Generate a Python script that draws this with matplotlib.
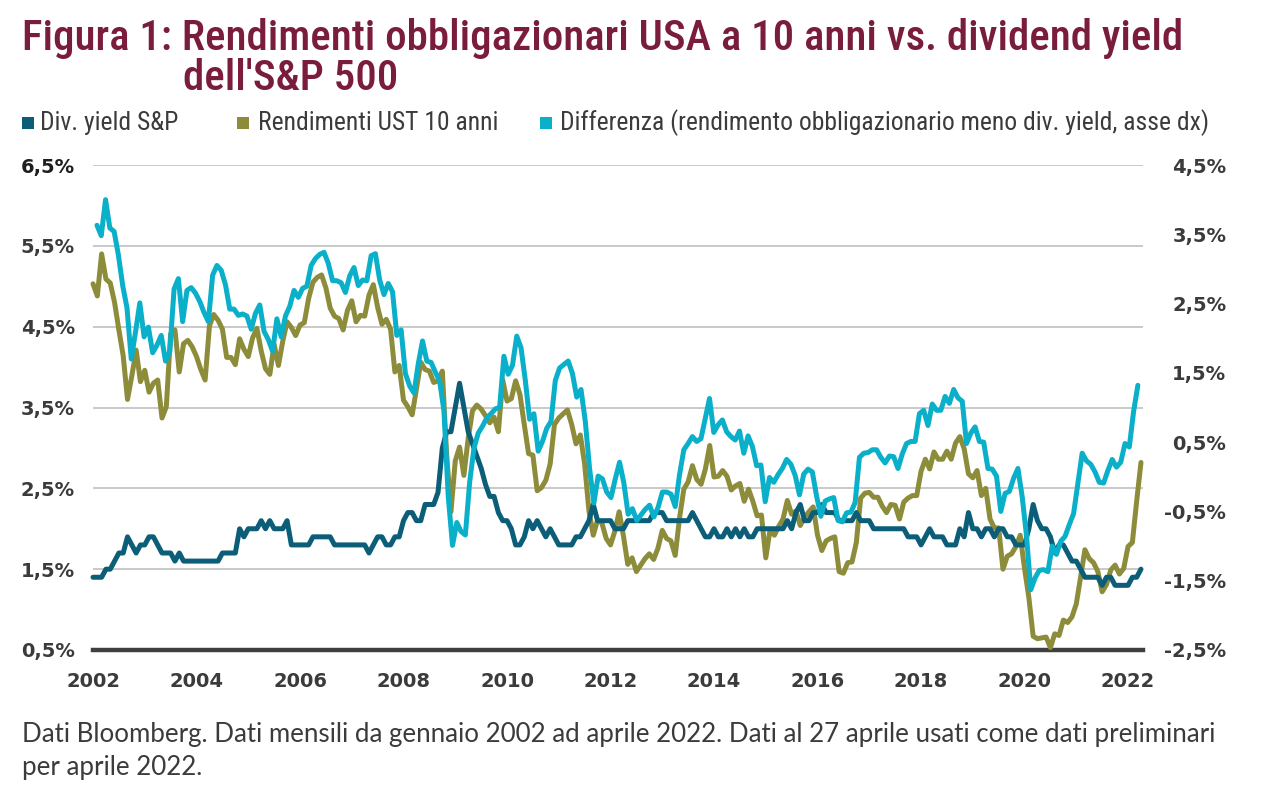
import numpy as np
import matplotlib
matplotlib.use("Agg")
import matplotlib.pyplot as plt
from matplotlib import font_manager
from matplotlib.patches import Rectangle

# ---------------- data (monthly, Jan 2002 - Apr 2022) ----------------
year_ticks = [2002, 2004, 2006, 2008, 2010, 2012, 2014, 2016, 2018, 2020, 2022]
year_labels = [str(y) for y in year_ticks]
left_ticks = [0.5, 1.5, 2.5, 3.5, 4.5, 5.5, 6.5]
left_labels = ["0,5%", "1,5%", "2,5%", "3,5%", "4,5%", "5,5%", "6,5%"]
right_ticks = [-2.5, -1.5, -0.5, 0.5, 1.5, 2.5, 3.5, 4.5]
right_labels = ["-2,5%", "-1,5%", "-0,5%", "0,5%", "1,5%", "2,5%", "3,5%", "4,5%"]

ust_10y = [
    5.03, 4.88, 5.40, 5.09, 5.04, 4.80, 4.46, 4.14, 3.60, 3.89, 4.21, 3.82,
    3.96, 3.69, 3.80, 3.84, 3.37, 3.51, 4.41, 4.46, 3.94, 4.29, 4.33, 4.25,
    4.13, 3.97, 3.84, 4.51, 4.65, 4.58, 4.47, 4.12, 4.12, 4.03, 4.35, 4.22,
    4.13, 4.36, 4.48, 4.20, 3.98, 3.91, 4.28, 4.02, 4.32, 4.56, 4.49, 4.39,
    4.52, 4.55, 4.85, 5.05, 5.11, 5.14, 4.98, 4.73, 4.63, 4.60, 4.46, 4.70,
    4.82, 4.56, 4.64, 4.63, 4.89, 5.02, 4.74, 4.53, 4.59, 4.47, 3.94, 4.02,
    3.59, 3.51, 3.41, 3.73, 4.06, 3.97, 3.95, 3.81, 3.83, 3.95, 2.92, 2.21,
    2.84, 3.01, 2.66, 3.12, 3.46, 3.53, 3.48, 3.40, 3.31, 3.38, 3.20, 3.84,
    3.58, 3.61, 3.83, 3.66, 3.29, 2.93, 2.91, 2.47, 2.51, 2.60, 2.80, 3.29,
    3.37, 3.42, 3.47, 3.29, 3.05, 3.16, 2.80, 2.22, 1.92, 2.11, 2.07, 1.88,
    1.80, 1.97, 2.21, 1.91, 1.56, 1.64, 1.47, 1.55, 1.63, 1.69, 1.62, 1.76,
    1.98, 1.88, 1.85, 1.67, 2.13, 2.49, 2.58, 2.78, 2.61, 2.55, 2.74, 3.03,
    2.64, 2.65, 2.72, 2.65, 2.48, 2.53, 2.56, 2.34, 2.49, 2.34, 2.16, 2.17,
    1.64, 1.99, 1.92, 2.03, 2.12, 2.35, 2.18, 2.22, 2.04, 2.14, 2.21, 2.27,
    1.92, 1.73, 1.85, 1.88, 1.90, 1.47, 1.45, 1.58, 1.59, 1.83, 2.38, 2.44,
    2.45, 2.39, 2.39, 2.28, 2.20, 2.30, 2.29, 2.12, 2.33, 2.38, 2.41, 2.41,
    2.71, 2.86, 2.74, 2.95, 2.86, 2.86, 2.96, 2.86, 3.06, 3.14, 2.99, 2.68,
    2.63, 2.72, 2.41, 2.50, 2.12, 2.01, 2.01, 1.50, 1.66, 1.69, 1.78, 1.92,
    1.51, 1.15, 0.67, 0.64, 0.65, 0.66, 0.53, 0.70, 0.68, 0.87, 0.84, 0.91,
    1.07, 1.40, 1.74, 1.63, 1.58, 1.47, 1.22, 1.31, 1.49, 1.55, 1.44, 1.51,
    1.78, 1.83, 2.34, 2.82,
]

div_yield = [
    1.4, 1.4, 1.4, 1.5, 1.5, 1.6, 1.7, 1.7, 1.9, 1.8, 1.7, 1.8,
    1.8, 1.9, 1.9, 1.8, 1.7, 1.7, 1.7, 1.6, 1.7, 1.6, 1.6, 1.6,
    1.6, 1.6, 1.6, 1.6, 1.6, 1.6, 1.7, 1.7, 1.7, 1.7, 2.0, 1.9,
    2.0, 2.0, 2.0, 2.1, 2.0, 2.1, 2.0, 2.0, 2.0, 2.1, 1.8, 1.8,
    1.8, 1.8, 1.8, 1.9, 1.9, 1.9, 1.9, 1.9, 1.8, 1.8, 1.8, 1.8,
    1.8, 1.8, 1.8, 1.8, 1.7, 1.8, 1.9, 1.9, 1.8, 1.8, 1.9, 1.9,
    2.1, 2.2, 2.2, 2.1, 2.1, 2.3, 2.3, 2.3, 2.45, 3.0, 3.2, 3.2,
    3.5, 3.8, 3.5, 3.2, 3.05, 2.9, 2.75, 2.55, 2.4, 2.4, 2.2, 2.1,
    2.1, 2.0, 1.8, 1.8, 1.9, 2.1, 2.0, 2.1, 2.0, 1.9, 2.0, 1.9,
    1.8, 1.8, 1.8, 1.8, 1.9, 1.9, 2.0, 2.1, 2.3, 2.1, 2.1, 2.1,
    2.1, 2.0, 2.0, 2.0, 2.1, 2.1, 2.1, 2.1, 2.1, 2.1, 2.2, 2.2,
    2.2, 2.1, 2.1, 2.1, 2.1, 2.1, 2.1, 2.2, 2.1, 2.0, 1.9, 1.9,
    2.0, 1.9, 1.9, 2.0, 1.9, 2.0, 1.9, 2.0, 1.9, 1.9, 2.0, 2.0,
    2.0, 2.0, 2.0, 2.0, 2.0, 2.1, 2.0, 2.2, 2.3, 2.1, 2.1, 2.2,
    2.2, 2.3, 2.2, 2.2, 2.2, 2.1, 2.1, 2.1, 2.1, 2.2, 2.1, 2.1,
    2.1, 2.0, 2.0, 2.0, 2.0, 2.0, 2.0, 2.0, 2.0, 1.9, 1.9, 1.9,
    1.8, 1.9, 2.0, 1.9, 1.9, 1.9, 1.8, 1.8, 1.8, 2.0, 1.9, 2.2,
    2.0, 2.0, 1.9, 2.0, 2.0, 1.9, 2.0, 2.0, 1.9, 1.9, 1.8, 1.8,
    1.8, 2.0, 2.3, 2.1, 2.0, 2.0, 1.9, 1.7, 1.8, 1.8, 1.7, 1.6,
    1.6, 1.5, 1.4, 1.4, 1.4, 1.4, 1.3, 1.4, 1.4, 1.3, 1.3, 1.3,
    1.3, 1.4, 1.4, 1.5,
]

spread = [
    3.63, 3.48, 4.00, 3.59, 3.54, 3.20, 2.76, 2.44, 1.70, 2.09, 2.51, 2.02,
    2.16, 1.79, 1.90, 2.04, 1.67, 1.81, 2.71, 2.86, 2.24, 2.69, 2.73, 2.65,
    2.53, 2.37, 2.24, 2.91, 3.05, 2.98, 2.77, 2.42, 2.42, 2.33, 2.35, 2.32,
    2.13, 2.36, 2.48, 2.10, 1.98, 1.81, 2.28, 2.02, 2.32, 2.46, 2.69, 2.59,
    2.72, 2.75, 3.05, 3.15, 3.21, 3.24, 3.08, 2.83, 2.83, 2.80, 2.66, 2.90,
    3.02, 2.76, 2.84, 2.83, 3.19, 3.22, 2.84, 2.63, 2.79, 2.67, 2.04, 2.12,
    1.49, 1.31, 1.21, 1.63, 1.96, 1.67, 1.65, 1.51, 1.38, 0.95, -0.28, -0.99,
    -0.66, -0.79, -0.84, -0.08, 0.41, 0.63, 0.73, 0.85, 0.91, 0.98, 1.00, 1.74,
    1.48, 1.61, 2.03, 1.86, 1.39, 0.83, 0.91, 0.37, 0.51, 0.70, 0.80, 1.39,
    1.57, 1.62, 1.67, 1.49, 1.15, 1.26, 0.80, 0.12, -0.38, 0.01, -0.03, -0.22,
    -0.30, -0.03, 0.21, -0.09, -0.54, -0.46, -0.63, -0.55, -0.47, -0.41, -0.58, -0.44,
    -0.22, -0.22, -0.25, -0.43, 0.03, 0.39, 0.48, 0.58, 0.51, 0.55, 0.84, 1.13,
    0.64, 0.75, 0.82, 0.65, 0.58, 0.53, 0.66, 0.34, 0.59, 0.44, 0.16, 0.17,
    -0.36, -0.01, -0.08, 0.03, 0.12, 0.25, 0.18, 0.02, -0.26, 0.04, 0.11, 0.07,
    -0.28, -0.57, -0.35, -0.32, -0.30, -0.63, -0.65, -0.52, -0.51, -0.37, 0.28, 0.34,
    0.35, 0.39, 0.39, 0.28, 0.20, 0.30, 0.29, 0.12, 0.33, 0.48, 0.51, 0.51,
    0.91, 0.96, 0.74, 1.05, 0.96, 0.96, 1.16, 1.06, 1.26, 1.14, 1.09, 0.48,
    0.63, 0.72, 0.51, 0.50, 0.12, 0.11, 0.01, -0.50, -0.24, -0.21, -0.02, 0.12,
    -0.29, -0.85, -1.63, -1.46, -1.35, -1.34, -1.37, -1.00, -1.12, -0.93, -0.86, -0.69,
    -0.53, -0.10, 0.34, 0.23, 0.18, 0.07, -0.08, -0.09, 0.09, 0.25, 0.14, 0.21,
    0.48, 0.43, 0.94, 1.32,
]

series_names = [
    "Div. yield S&P",
    "Rendimenti UST 10 anni",
    "Differenza (rendimento obbligazionario meno div. yield, asse dx)",
]
title_lines = ["Figura 1: Rendimenti obbligazionari USA a 10 anni vs. dividend yield",
               "dell'S&P 500"]
footer_lines = ["Dati Bloomberg. Dati mensili da gennaio 2002 ad aprile 2022. "
                "Dati al 27 aprile usati come dati preliminari",
                "per aprile 2022."]

# ---------------- style ----------------
NAVY = "#0b5d78"
OLIVE = "#8c8c3b"
CYAN = "#0aafc9"
MAROON = "#7a1c3c"
TXT = "#3b3b3d"
GRID = "#c9c9c9"

avail = {f.name for f in font_manager.fontManager.ttflist}


def pick(*names):
    for n in names:
        if n in avail:
            return n
    return "DejaVu Sans"


COND = pick("Liberation Sans Narrow", "Roboto Condensed", "Open Sans Condensed", "Roboto")
FOOT = pick("Lato", "Open Sans", "Noto Sans", "DejaVu Sans")

W, H = 1266, 788
fig = plt.figure(figsize=(W / 100, H / 100), dpi=100)
fig.patch.set_facecolor("white")


def fx(px):
    return px / W


def fy(py):
    return 1 - py / H


L, R, T, B = 93, 1143, 165, 650
rect = [fx(L), fy(B), fx(R) - fx(L), fy(T) - fy(B)]

# main axes (left scale)
ax = fig.add_axes(rect)
months = np.arange(len(ust_10y))
ax.plot(months, ust_10y, color=OLIVE, lw=3.6, solid_joinstyle="round",
        solid_capstyle="round", zorder=3, clip_on=False)
ax.plot(months, div_yield, color=NAVY, lw=3.6, solid_joinstyle="round",
        solid_capstyle="round", zorder=4, clip_on=False)
ax.set_xlim(0, 243.47)
ax.set_ylim(0.5, 6.5)
ax.set_yticks(left_ticks)
ax.set_yticklabels(left_labels)
ax.set_xticks([(y - 2002) * 12 for y in year_ticks])
ax.set_xticklabels(year_labels)
ax.grid(axis="y", color=GRID, lw=1.4)
ax.grid(axis="x", visible=False)
ax.set_axisbelow(True)
for s in ["left", "right", "top"]:
    ax.spines[s].set_visible(False)
ax.spines["bottom"].set_color("#3f3f41")
ax.spines["bottom"].set_linewidth(3.2)
ax.spines["bottom"].set_zorder(2.6)
ax.tick_params(axis="both", length=0, labelsize=14, labelcolor=TXT)
ax.tick_params(axis="y", pad=13)
ax.tick_params(axis="x", pad=16)
for lab in ax.get_xticklabels() + ax.get_yticklabels():
    lab.set_fontweight("bold")
ax.get_yticklabels()[-1].set_color("#1e1e1e")

# overlay axes for the spread (right scale)
ax2 = fig.add_axes(rect, frameon=False)
ax2.plot(np.arange(len(spread)), spread, color=CYAN, lw=3.6,
         solid_joinstyle="round", solid_capstyle="round", clip_on=False)
ax2.set_xlim(-0.93, 244.2)
ax2.set_ylim(-2.5, 4.5)
ax2.set_xticks([])
ax2.yaxis.tick_right()
ax2.set_yticks(right_ticks)
ax2.set_yticklabels(right_labels)
ax2.tick_params(axis="y", length=0, labelsize=14, labelcolor=TXT, pad=60)
for lab in ax2.get_yticklabels():
    lab.set_fontweight("bold")
    lab.set_horizontalalignment("right")

# ---------------- texts ----------------
renderer = fig.canvas.get_renderer()


def fit(t, target):
    w = t.get_window_extent(renderer=renderer).width
    t.set_fontsize(t.get_fontsize() * target / w)
    return t.get_fontsize()


t1 = fig.text(fx(22), fy(50), title_lines[0], color=MAROON, family=[COND, "DejaVu Sans"],
              fontsize=26, fontweight="medium", va="baseline", ha="left")
size_title = fit(t1, 1163)
fig.text(fx(183), fy(90), title_lines[1], color=MAROON, family=[COND, "DejaVu Sans"],
         fontsize=size_title, fontweight="medium", va="baseline", ha="left")

leg_x = [40, 258, 560]
sq_x = [22, 237, 540]
leg_colors = [NAVY, OLIVE, CYAN]
lt = fig.text(fx(leg_x[2]), fy(130), series_names[2], color=TXT,
              family=[COND, "DejaVu Sans"], fontsize=16, va="baseline", ha="left")
size_leg = fit(lt, 652)
for i in range(2):
    fig.text(fx(leg_x[i]), fy(130), series_names[i], color=TXT,
             family=[COND, "DejaVu Sans"], fontsize=size_leg, va="baseline", ha="left")
for i in range(3):
    fig.add_artist(Rectangle((fx(sq_x[i]), fy(129)), 12 / W, 12 / H,
                             transform=fig.transFigure, facecolor=leg_colors[i],
                             edgecolor="none"))

f1 = fig.text(fx(22), fy(742), footer_lines[0], color=TXT, family=[FOOT, "DejaVu Sans"],
              fontsize=15, va="baseline", ha="left")
size_foot = fit(f1, 1196)
fig.text(fx(22), fy(775), footer_lines[1], color=TXT, family=[FOOT, "DejaVu Sans"],
         fontsize=size_foot, va="baseline", ha="left")

fig.savefig("out.png", dpi=100, facecolor="white")
